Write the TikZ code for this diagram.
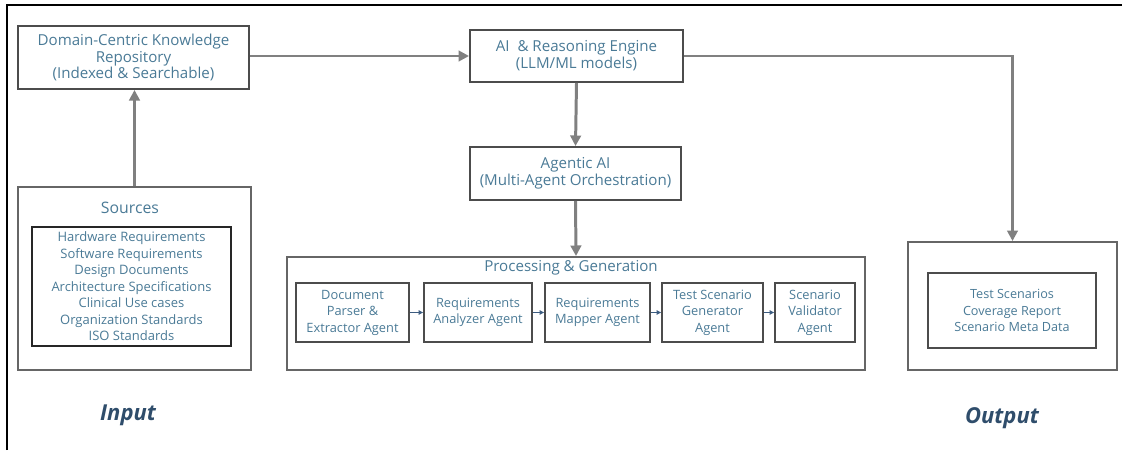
\documentclass[tikz,border=0pt]{standalone}
\usepackage{fontspec}
\setmainfont{Open Sans}
\usetikzlibrary{arrows.meta}
\definecolor{txt}{HTML}{4A7A96}
\definecolor{flowgray}{HTML}{808080}
\definecolor{lbl}{HTML}{2F4D6B}
\definecolor{agentarrow}{HTML}{3C5C80}

\begin{document}
\begin{tikzpicture}[x=0.02cm,y=-0.02cm,
    box/.style={draw=black!70,line width=1.1pt,text=txt,align=center,inner sep=0pt,
      font=\fontsize{8.6}{9.6}\selectfont},
    outerbox/.style={draw=black!60,line width=1.1pt,inner sep=0pt},
    agent/.style={box,minimum height=1.18cm,font=\fontsize{7.3}{9.4}\selectfont},
    flow/.style={draw=flowgray,line width=1.7pt,-{Triangle[length=6pt,width=6pt]}},
    link/.style={draw=agentarrow,line width=0.6pt,-{Triangle[length=2.5pt,width=2.5pt]}},
    side/.style={text=lbl,font=\fontsize{12.5}{14}\selectfont\bfseries\itshape}]
    \useasboundingbox (0,0) rectangle (1122,450);
    % frame edges
    \draw[line width=1.3pt] (7,450) -- (7,5) -- (1122,5);
    \node[box,minimum width=4.62cm,minimum height=1.26cm] (Repo) at (133.5,57.5)
      {Domain-Centric Knowledge\\Repository\\(Indexed \& Searchable)};
    \node[box,minimum width=4.26cm,minimum height=1.04cm] (AI) at (576.5,56)
      {AI \ \& Reasoning Engine\\(LLM/ML models)};
    \node[box,minimum width=4.22cm,minimum height=1.06cm] (Agentic) at (575.5,173.5)
      {Agentic AI\\(Multi-Agent Orchestration)};
    % sources
    \node[outerbox,minimum width=4.66cm,minimum height=3.66cm] (Src) at (134.5,278.5) {};
    \node[text=txt,font=\fontsize{9}{10}\selectfont] (SrcT) at (130,208) {Sources};
    \node[box,draw=black!85,minimum width=3.98cm,minimum height=2.38cm,
      font=\fontsize{7.4}{9.4}\selectfont] (SrcL) at (131.5,286.5)
      {Hardware Requirements\\Software Requirements\\Design Documents\\Architecture Specifications\\
       Clinical Use cases\\Organization Standards\\ISO Standards};
    % processing
    \node[outerbox,minimum width=11.56cm,minimum height=2.26cm] (Proc) at (576,313.5) {};
    \node[text=txt,font=\fontsize{8.6}{9.6}\selectfont] (ProcT) at (571,268) {Processing \& Generation};
    \node[agent,minimum width=2.26cm] (Doc) at (352.5,312.5) {Document\\Parser \&\\Extractor Agent};
    \node[agent,minimum width=2.16cm] (Ana) at (478,312.5) {Requirements\\Analyzer Agent};
    \node[agent,minimum width=2.10cm] (Map) at (597.5,312.5) {Requirements\\Mapper Agent};
    \node[agent,minimum width=2.02cm] (Gen) at (712.5,312.5) {Test Scenario\\Generator\\Agent};
    \node[agent,minimum width=1.60cm] (Val) at (815,312.5) {Scenario\\Validator\\Agent};
    % output
    \node[outerbox,minimum width=4.18cm,minimum height=2.56cm] (Out) at (1012.5,306) {};
    \node[box,minimum width=3.36cm,minimum height=1.5cm,
      font=\fontsize{7.2}{9.4}\selectfont] (OutL) at (1012,310.5)
      {Test Scenarios\\Coverage Report\\Scenario Meta Data};
    \node[side] (InLbl) at (128,415) {Input};
    \node[side] (OutLbl) at (1002,418) {Output};
    % connectors
    \draw[flow] (Src.north) -- (Src.north |- Repo.south);
    \draw[flow] (Repo.east |- AI.west) -- (AI.west);
    \draw[flow] (AI.south) -- (Agentic.north);
    \draw[flow] (Agentic.south) -- (Proc.north);
    \draw[flow] (AI.east) -| (Out.north);
    \draw[link] (Doc) -- (Ana);
    \draw[link] (Ana) -- (Map);
    \draw[link] (Map) -- (Gen);
    \draw[link] (Gen) -- (Val);
\end{tikzpicture}
\end{document}
